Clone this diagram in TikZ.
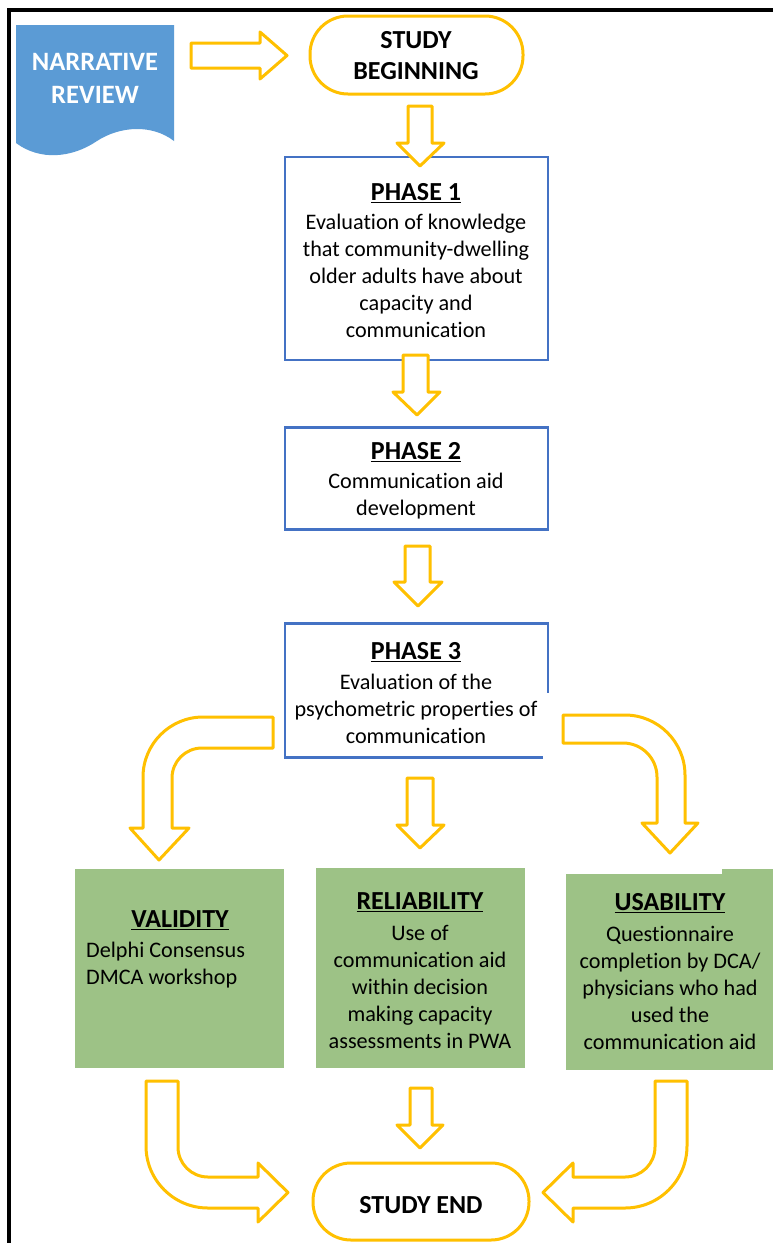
\documentclass[tikz,border=0pt]{standalone}
\usepackage{fontspec}
\setmainfont{Carlito}[Ligatures=NoCommon]
\definecolor{orng}{RGB}{255,192,0}
\definecolor{bluebd}{RGB}{68,114,196}
\definecolor{docblue}{RGB}{91,155,213}
\definecolor{grn}{RGB}{157,194,134}
\begin{document}
\begin{tikzpicture}[x=1pt,y=-1pt,
  arr/.style={draw=orng, line width=3pt, fill=white, line join=round},
  bluebox/.style={draw=bluebd, line width=2.5pt, fill=white, rectangle, inner sep=0pt},
  greenbox/.style={fill=grn, rectangle, inner sep=0pt},
  pill/.style={draw=orng, line width=3pt, fill=white, rectangle, rounded corners=38pt, inner sep=0pt},
  head/.style={font=\fontsize{26}{31}\selectfont\bfseries, align=center, inner sep=0pt},
  body/.style={font=\fontsize{22.2}{27}\selectfont, align=center, inner sep=0pt}]
\useasboundingbox (0,0) rectangle (773,1243);
\fill[white] (0,0) rectangle (773,1243);
% frame
\draw[line width=4pt] (9,1250) -- (9,10) -- (780,10);
% narrative review document shape
\fill[docblue] (16,25) -- (174,25) -- (174,141) .. controls (152,124) and (120,126) .. (97,141) .. controls (72,158) and (40,161) .. (16,143) -- cycle;
\node[head, text=white, font=\fontsize{26.5}{33}\selectfont\bfseries] (nr) at (95,78) {NARRATIVE\\REVIEW};
% start / end pills
\node[pill, minimum width=213pt, minimum height=78pt] (sb) at (416.5,55) {};
\node[pill, minimum width=216pt, minimum height=77pt] (se) at (421,1201.5) {};
% phase boxes
\node[bluebox, minimum width=263pt, minimum height=203pt] (p1) at (416.5,258.5) {};
\node[bluebox, minimum width=263pt, minimum height=102pt] (p2) at (416.5,478.5) {};
\node[bluebox, minimum width=263pt, minimum height=134pt] (p3) at (416.5,690.5) {};
\fill[white] (543,693) rectangle (553,763);
% green boxes
\node[greenbox, minimum width=209pt, minimum height=199pt] (val) at (179.5,968.5) {};
\node[greenbox, minimum width=209pt, minimum height=200pt] (rel) at (420.5,968) {};
\node[greenbox, minimum width=214pt, minimum height=201pt] (usa) at (673,969.5) {};
\fill[white] (565,866) rectangle (722,874);
% straight arrows
\draw[arr] (191,43) -- (260,43) -- (260,32) -- (287,55.5) -- (260,79) -- (260,68) -- (191,68) -- cycle;
\draw[arr] (408,106) -- (432,106) -- (432,143) -- (444,143) -- (420,166) -- (397,143) -- (408,143) -- cycle;
\draw[arr] (403,355) -- (428,355) -- (428,392) -- (440,392) -- (417,415) -- (393,392) -- (403,392) -- cycle;
\draw[arr] (405,546) -- (430,546) -- (430,582) -- (442,582) -- (418,606) -- (394,582) -- (405,582) -- cycle;
\draw[arr] (407,778) -- (433,778) -- (433,825) -- (444,825) -- (420,848) -- (397,825) -- (407,825) -- cycle;
\draw[arr] (410,1088) -- (432,1088) -- (432,1125) -- (443,1125) -- (420,1148) -- (397,1125) -- (410,1125) -- cycle;
% curved arrows
\draw[arr] (273,717) -- (203,717) .. controls (170,717) and (143,744) .. (143,777) -- (143,828) -- (130,828) -- (159,860) -- (189,828) -- (172,828) -- (172,778) .. controls (172,761.4) and (185.4,748) .. (202,748) -- (273,748) -- cycle;
\draw[arr] (563,715) -- (625,715) .. controls (658,715) and (685,742) .. (685,775) -- (685,823) -- (698,823) -- (670,853) -- (642,823) -- (657,823) -- (657,777) .. controls (657,758.2) and (641.8,743) .. (623,743) -- (563,743) -- cycle;
\draw[arr] (146,1081) -- (178,1081) -- (178,1147) .. controls (178,1163.6) and (191.4,1177) .. (208,1177) -- (258,1177) -- (258,1163) -- (288,1192.5) -- (258,1222) -- (258,1208) -- (208,1208) .. controls (173.8,1208) and (146,1180.2) .. (146,1146) -- cycle;
\draw[arr] (655,1081) -- (687,1081) -- (687,1146) .. controls (687,1180.2) and (659.2,1208) .. (625,1208) -- (573,1208) -- (573,1222) -- (543,1192.5) -- (573,1163) -- (573,1177) -- (625,1177) .. controls (641.6,1177) and (655,1163.6) .. (655,1147) -- cycle;
% texts
\node[head] (sbt) at (416,56) {STUDY\\BEGINNING};
\node[head] (set) at (421,1205) {STUDY END};
\node[head] (p1h) at (416,193) {\underline{PHASE 1}};
\node[body] (p1b) at (416,276) {Evaluation of knowledge\\that community-dwelling\\older adults have about\\capacity and\\communication};
\node[head] (p2h) at (416,452) {\underline{PHASE 2}};
\node[body] (p2b) at (416,496) {Communication aid\\development};
\node[head] (p3h) at (416,652) {\underline{PHASE 3}};
\node[body] (p3b) at (416,709) {Evaluation of the\\psychometric properties of\\communication};
\node[head] (valh) at (180,920) {\underline{VALIDITY}};
\node[body, align=left, anchor=west] (valb) at (86,965) {Delphi Consensus\\DMCA workshop};
\node[head] (relh) at (420,902) {\underline{RELIABILITY}};
\node[body] (relb) at (420,987) {Use of\\communication aid\\within decision\\making capacity\\assessments in PWA};
\node[head] (usah) at (670,903) {\underline{USABILITY}};
\node[body] (usab) at (670,988) {Questionnaire\\completion by DCA/\\physicians who had\\used the\\communication aid};
\end{tikzpicture}
\end{document}
